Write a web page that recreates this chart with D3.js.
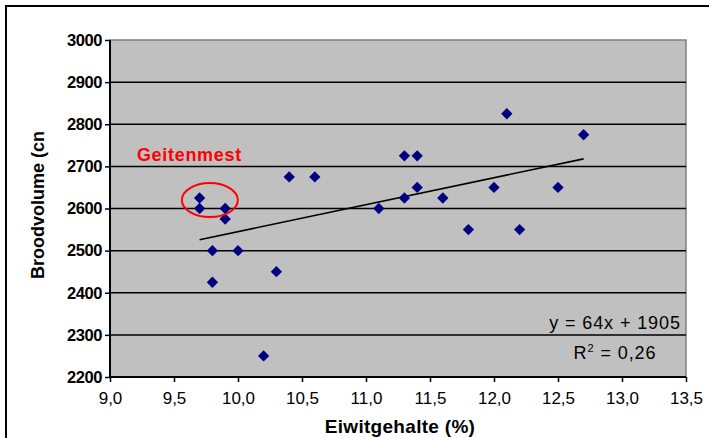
<!DOCTYPE html>
<html><head><meta charset="utf-8">
<script src="https://cdn.jsdelivr.net/npm/d3@7"></script>
<style>
html,body{margin:0;padding:0;background:#fff;}
svg{display:block;font-family:Arial,"Liberation Sans",sans-serif;}
</style></head>
<body>
<svg id="chart" width="709" height="438"></svg>
<script>
// Data
const eiwit = [9.7, 9.7, 9.9, 9.9, 9.8, 10.0, 9.8, 10.3, 10.2, 10.4, 10.6, 11.1, 11.3, 11.3, 11.4, 11.4, 11.6, 11.8, 12.0, 12.1, 12.2, 12.5, 12.7];
const brood = [2625, 2600, 2600, 2575, 2500, 2500, 2425, 2450, 2250, 2675, 2675, 2600, 2725, 2625, 2725, 2650, 2625, 2550, 2650, 2825, 2550, 2650, 2775];
const xTicks = [9.0, 9.5, 10.0, 10.5, 11.0, 11.5, 12.0, 12.5, 13.0, 13.5];
const yTicks = [2200, 2300, 2400, 2500, 2600, 2700, 2800, 2900, 3000];
const trendSlope = [64];
const trendIntercept = [1905];
const rSquared = [0.26];
const annotation = ["Geitenmest"];
const xTitle = ["Eiwitgehalte (%)"];
const yTitle = ["Broodvolume (cn"];

const svg = d3.select("#chart");
const m = {left: 110, top: 40, right: 686, bottom: 377};
const x = d3.scaleLinear().domain([9.0, 13.5]).range([m.left, m.right]);
const y = d3.scaleLinear().domain([2200, 3000]).range([m.bottom, m.top]);
const fmt = v => d3.format(".1f")(v).replace(".", ",");

// outer frame
svg.append("rect").attr("x", 6).attr("y", 6).attr("width", 720).attr("height", 450)
  .attr("fill", "#fff").attr("stroke", "#000").attr("stroke-width", 2);

// plot area
svg.append("rect").attr("x", m.left).attr("y", m.top)
  .attr("width", m.right - m.left).attr("height", m.bottom - m.top)
  .attr("fill", "#c0c0c0").attr("stroke", "#808080").attr("stroke-width", 1.5);

// gridlines
svg.append("g").selectAll("line").data(yTicks.filter(d => d > 2200 && d < 3000)).join("line")
  .attr("x1", m.left).attr("x2", m.right)
  .attr("y1", d => y(d)).attr("y2", d => y(d))
  .attr("stroke", "#000").attr("stroke-width", 1.5);

// y axis
const yAxis = svg.append("g").attr("transform", `translate(${m.left},0)`)
  .call(d3.axisLeft(y).tickValues(yTicks).tickSize(5).tickPadding(3).tickFormat(d3.format("d")));
yAxis.select(".domain").attr("stroke", "#000").attr("stroke-width", 2).attr("d", `M0,${m.top}V${m.bottom}`);
yAxis.selectAll(".tick line").attr("stroke", "#000").attr("stroke-width", 1.5);
yAxis.selectAll("text").attr("font-size", 16.5).attr("font-weight", "bold").attr("fill", "#000")
  .attr("font-family", "Arial, 'Liberation Sans', sans-serif").attr("letter-spacing", "-0.4");

// x axis
const xAxis = svg.append("g").attr("transform", `translate(0,${m.bottom})`)
  .call(d3.axisBottom(x).tickValues(xTicks).tickSize(5).tickPadding(10).tickFormat(fmt));
xAxis.select(".domain").attr("stroke", "#000").attr("stroke-width", 2).attr("d", `M${m.left},0H${m.right}`);
xAxis.selectAll(".tick line").attr("stroke", "#000").attr("stroke-width", 1.5);
xAxis.selectAll("text").attr("font-size", 17).attr("fill", "#000")
  .attr("font-family", "Arial, 'Liberation Sans', sans-serif");

// trendline
const xmin = d3.min(eiwit), xmax = d3.max(eiwit);
svg.append("line")
  .attr("x1", x(xmin)).attr("y1", y(trendSlope[0] * xmin + trendIntercept[0]))
  .attr("x2", x(xmax)).attr("y2", y(trendSlope[0] * xmax + trendIntercept[0]))
  .attr("stroke", "#000").attr("stroke-width", 1.6);

// markers
const sym = d3.symbol().type(d3.symbolSquare).size(64);
svg.append("g").selectAll("path").data(eiwit.map((v, i) => [v, brood[i]])).join("path")
  .attr("d", sym)
  .attr("transform", d => `translate(${x(d[0])},${y(d[1])}) rotate(45)`)
  .attr("fill", "#000080");

// red ellipse annotation
svg.append("ellipse").attr("cx", x(9.78)).attr("cy", y(2620))
  .attr("rx", 28).attr("ry", 17)
  .attr("fill", "none").attr("stroke", "#ff0000").attr("stroke-width", 2);
svg.append("text").attr("x", x(9.21)).attr("y", y(2712))
  .attr("font-size", 18).attr("font-weight", "bold").attr("fill", "#ff0000")
  .attr("letter-spacing", "0.7")
  .text(annotation[0]);

// equation
svg.append("text").attr("x", 615).attr("y", 329).attr("text-anchor", "middle")
  .attr("font-size", 18).attr("fill", "#000").attr("letter-spacing", "0.9")
  .text(`y = ${trendSlope[0]}x + ${trendIntercept[0]}`);
const r2 = svg.append("text").attr("x", 615).attr("y", 359).attr("text-anchor", "middle")
  .attr("font-size", 18).attr("fill", "#000").attr("letter-spacing", "0.9");
r2.append("tspan").text("R");
r2.append("tspan").attr("font-size", 11).attr("dy", -7).text("2");
r2.append("tspan").attr("dy", 7).text(" = " + String(rSquared[0]).replace(".", ","));

// axis titles
svg.append("text").attr("x", (m.left + m.right) / 2 + 2).attr("y", 433).attr("text-anchor", "middle")
  .attr("font-size", 19).attr("font-weight", "bold").attr("fill", "#000").attr("letter-spacing", "0.3")
  .text(xTitle[0]);
svg.append("text").attr("transform", "translate(44,205) rotate(-90)").attr("text-anchor", "middle")
  .attr("font-size", 18).attr("font-weight", "bold").attr("fill", "#000")
  .text(yTitle[0]);
</script>
</body></html>
